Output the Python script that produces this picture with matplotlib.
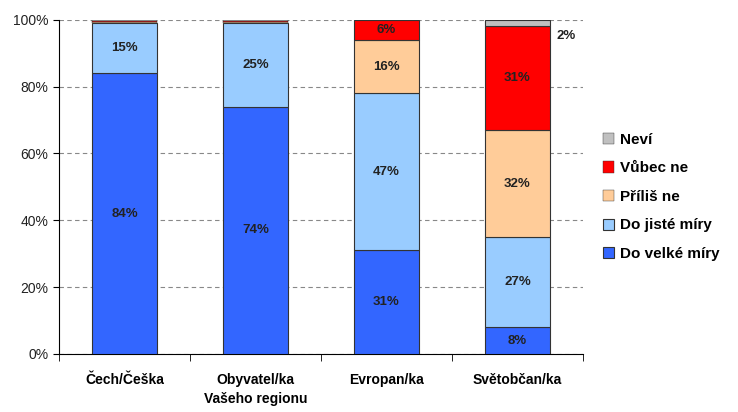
import numpy as np
import matplotlib.pyplot as plt

plt.rcParams['font.family'] = ['Liberation Sans', 'DejaVu Sans']

categories = ['Čech/Češka', 'Obyvatel/ka\nVašeho regionu', 'Evropan/ka', 'Světobčan/ka']
series_names = ['Do velké míry', 'Do jisté míry', 'Příliš ne', 'Vůbec ne', 'Neví']
do_velke = [84, 74, 31, 8]
do_jiste = [15, 25, 47, 27]
prilis_ne = [0.4, 0.4, 16, 32]
vubec_ne = [0.3, 0.3, 6, 31]
nevi = [0.3, 0.3, 0, 2]
colors = ['#3366FF', '#99CCFF', '#FFCC99', '#FF0000', '#C0C0C0']

values = [do_velke, do_jiste, prilis_ne, vubec_ne, nevi]

fig = plt.figure(figsize=(7.38, 4.12), dpi=100)
ax = fig.add_axes([0.080, 0.141, 0.710, 0.811])

x = np.arange(len(categories))
bottom = np.zeros(len(categories))
handles = []
for name, vals, col in zip(series_names, values, colors):
    vals = np.array(vals, dtype=float)
    lw = [0.8 if v >= 1 else 0.3 for v in vals]
    b = ax.bar(x, vals, 0.5, bottom=bottom, color=col, edgecolor='#333333',
               linewidth=lw, label=name, zorder=3)
    handles.append(b)
    for i, v in enumerate(vals):
        if v >= 5:
            ax.text(x[i], bottom[i] + v / 2, f'{v:.0f}%', ha='center', va='center',
                    fontsize=9.5, fontweight='bold', color='#222222', zorder=4)
        elif v >= 2:
            ax.text(x[i] + 0.3, bottom[i] + v / 2 - 4, f'{v:.0f}%', ha='left', va='center',
                    fontsize=9.5, fontweight='bold', color='#222222', zorder=4)
    bottom += vals

ax.set_ylim(0, 100)
ax.set_xlim(-0.5, len(categories) - 0.5)
ax.set_yticks(np.arange(0, 101, 20))
ax.set_yticklabels([f'{t}%' for t in range(0, 101, 20)], fontsize=10, color='#222222')
ax.yaxis.grid(True, linestyle=(0, (4, 3)), color='#888888', linewidth=0.8, zorder=0)

ax.set_xticks(x)
ax.set_xticklabels(categories, fontsize=10, fontweight='bold', linespacing=1.45)
ax.tick_params(axis='x', length=0, pad=14)
ax.set_xticks(np.arange(-0.5, len(categories)), minor=True)
ax.tick_params(axis='x', which='minor', length=5, direction='out')
ax.tick_params(axis='y', length=4, direction='out')

for s in ['top', 'right']:
    ax.spines[s].set_visible(False)

leg = fig.legend(handles[::-1], series_names[::-1], loc='center left',
                 bbox_to_anchor=(0.798, 0.522), frameon=False,
                 prop={'weight': 'bold', 'size': 11}, handlelength=0.75,
                 handleheight=0.75, handletextpad=0.4, labelspacing=0.95)

fig.savefig('out.png', dpi=100)
